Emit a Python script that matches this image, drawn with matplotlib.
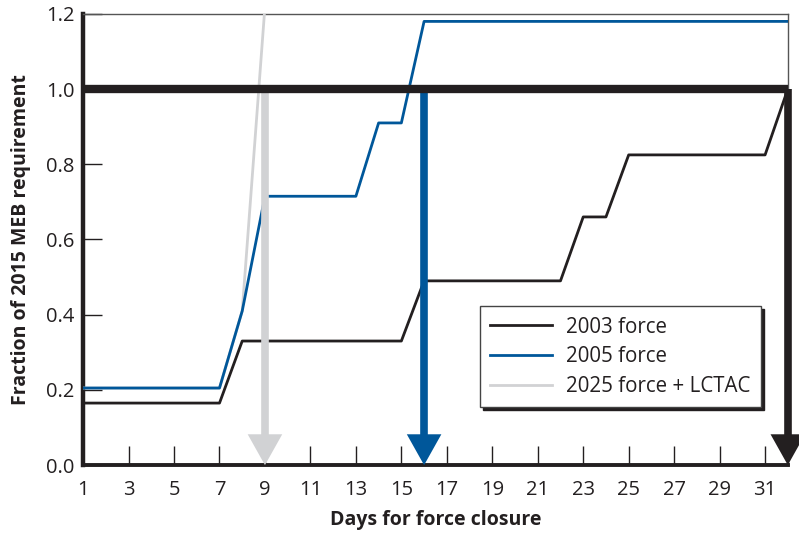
import numpy as np
from matplotlib import pyplot as plt

# dati
giorni = list(range(1, 33))
forza_2003 = [0.165] * 7 + [0.33] * 8 + [0.49] * 7 + [0.66, 0.66] + [0.825] * 7 + [1.0]
forza_2005 = [0.205] * 7 + [0.41] + [0.715] * 5 + [0.91, 0.91] + [1.18] * 17
forza_2025 = [0.205] * 7 + [0.41, 1.22]
giorni_2025 = giorni[:9]

requisito = 1.0
giorni_chiusura = [9, 16, 32]
colori_frecce = ['#d1d2d4', '#00579a', '#231f20']

nero = '#231f20'
blu = '#00579a'
grigio = '#d1d2d4'

plt.rcParams['font.family'] = ['Open Sans', 'DejaVu Sans']

fig = plt.figure(figsize=(7.99, 5.34), dpi=100)
ax = fig.add_axes([0.104, 0.129, 0.882, 0.845])

ax.set_xlim(1, 32)
ax.set_ylim(0, 1.2)

# linee delle forze
ax.plot(giorni_2025, forza_2025, color=grigio, lw=2, zorder=3, label='2025 force + LCTAC')
ax.plot(giorni, forza_2005, color=blu, lw=2, zorder=4, label='2005 force')
ax.plot(giorni, forza_2003, color=nero, lw=2, zorder=4, label='2003 force')

# frecce verticali
testa_w = 0.76
testa_h = 0.082
for g, c in zip(giorni_chiusura, colori_frecce):
    ax.plot([g, g], [requisito, testa_h * 0.9], color=c, lw=5.5,
            solid_capstyle='butt', zorder=5, clip_on=False)
    ax.fill([g - testa_w, g + testa_w, g], [testa_h, testa_h, 0],
            color=c, zorder=5, clip_on=False, lw=0)

# linea del requisito
ax.plot([1, 32], [requisito, requisito], color=nero, lw=6,
        solid_capstyle='butt', zorder=6, clip_on=False)

# assi
ax.spines['left'].set_linewidth(3.2)
ax.spines['bottom'].set_linewidth(2.8)
for lato in ['left', 'bottom']:
    ax.spines[lato].set_color(nero)
for lato in ['top', 'right']:
    ax.spines[lato].set_linewidth(1)
    ax.spines[lato].set_color('#555555')

ax.set_xticks(range(1, 33, 2))
ax.set_yticks(np.arange(0, 1.21, 0.2))
ax.set_yticklabels(['%.1f' % v for v in np.arange(0, 1.21, 0.2)])
ax.tick_params(axis='both', direction='in', length=14, width=1, colors=nero,
               labelsize=14.5, labelcolor=nero)
ax.tick_params(axis='x', pad=11)
ax.tick_params(axis='y', pad=6)

ax.set_xlabel('Days for force closure', fontsize=14, fontweight='bold', color=nero, labelpad=7)
ax.set_ylabel('Fraction of 2015 MEB requirement', fontsize=14, fontweight='bold', color=nero, labelpad=11)

# legenda con ombra
handles, labels = ax.get_legend_handles_labels()
leg = ax.legend(handles[::-1], labels[::-1], loc='upper left', bbox_to_anchor=(0.563, 0.352),
                borderaxespad=0, fontsize=14.8, frameon=True, fancybox=False, handlelength=3.0,
                borderpad=0.5, labelspacing=0.42, handletextpad=0.7,
                shadow={'facecolor': nero, 'edgecolor': nero, 'alpha': 1})
leg.get_frame().set_edgecolor('#444444')
leg.get_frame().set_linewidth(1)
leg.get_frame().set_alpha(1)
leg.set_zorder(10)
for t in leg.get_texts():
    t.set_color(nero)

fig.savefig('out.png', dpi=100)
